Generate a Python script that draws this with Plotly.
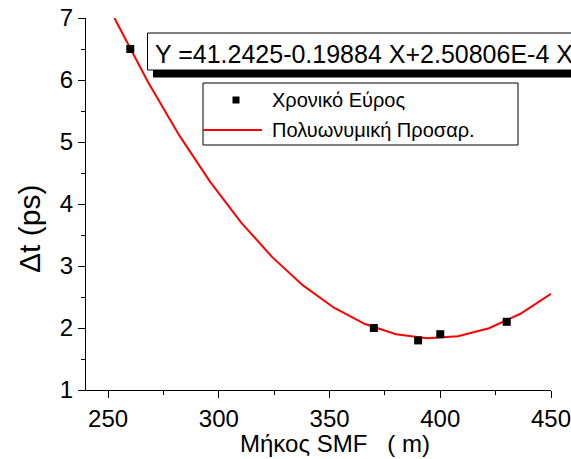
import numpy as np
import plotly.graph_objects as go

# Measured pulse broadening vs. SMF length
length_m = [260, 370, 390, 400, 430]
delta_t_ps = [6.5, 2.0, 1.8, 1.9, 2.1]

# Quadratic fit coefficients: Y = A + B*X + C*X^2
fit_A = 41.2425
fit_B = -0.19884
fit_C = 2.50806e-4
fit_x = np.linspace(240, 450, 16)
fit_y = fit_A + fit_B * fit_x + fit_C * fit_x ** 2

FONT = "Arial, Liberation Sans, sans-serif"

# plot-area geometry in pixels (used for the overlay boxes and titles)
L, R, T, B = 86, 551, 18, 390


def px(x):
    return (x - L) / (R - L)


def py(y):
    return (B - y) / (B - T)


fig = go.Figure()
fig.add_trace(go.Scatter(
    x=fit_x, y=fit_y, mode="lines",
    line=dict(color="#ff0000", width=2),
    name="Πολυωνυμική Προσαρ.", showlegend=False,
))
fig.add_trace(go.Scatter(
    x=length_m, y=delta_t_ps, mode="markers",
    marker=dict(symbol="square", size=8, color="black"),
    name="Χρονικό Εύρος", showlegend=False,
))

axis_common = dict(
    showline=True, linecolor="black", linewidth=1.3,
    ticks="outside", ticklen=7, tickwidth=1.3, tickcolor="black",
    showgrid=False, zeroline=False, mirror=False, automargin=False,
    ticklabeloverflow="allow",
    tickfont=dict(family=FONT, size=24, color="black"),
)

fig.update_xaxes(
    range=[240, 450], tickvals=[250, 300, 350, 400, 450],
    minor=dict(ticks="outside", ticklen=4, tickwidth=1.3, tickcolor="black",
               tickvals=[275, 325, 375, 425]),
    **axis_common,
)
fig.update_yaxes(
    range=[1, 7], dtick=1,
    minor=dict(ticks="outside", ticklen=4, tickwidth=1.3, tickcolor="black", dtick=0.5),
    **axis_common,
)

# Axis titles
fig.add_annotation(xref="paper", yref="paper", x=px(335), y=py(443),
                   xanchor="center", yanchor="middle", showarrow=False,
                   text="Μήκος SMF   ( m)",
                   font=dict(family=FONT, size=24, color="black"))
fig.add_annotation(xref="paper", yref="paper", x=px(30), y=py(229),
                   xanchor="center", yanchor="middle", showarrow=False,
                   textangle=-90, text="Δt (ps)",
                   font=dict(family=FONT, size=30, color="black"))

# Equation box with drop shadow
fig.add_shape(type="rect", xref="paper", yref="paper",
              x0=px(153), x1=px(700), y0=py(77.5), y1=py(40),
              fillcolor="black", line=dict(width=0), layer="above")
fig.add_shape(type="rect", xref="paper", yref="paper",
              x0=px(147.5), x1=px(690), y0=py(70), y1=py(33),
              fillcolor="white", line=dict(color="black", width=1), layer="above")
fig.add_annotation(xref="paper", yref="paper", x=px(153), y=py(52),
                   xanchor="left", yanchor="middle", showarrow=False,
                   text="Y =41.2425-0.19884 X+2.50806E-4 X<sup>2</sup>",
                   font=dict(family=FONT, size=25, color="black"))

# Legend box
fig.add_shape(type="rect", xref="paper", yref="paper",
              x0=px(203), x1=px(518), y0=py(145), y1=py(83),
              fillcolor="white", line=dict(color="black", width=1), layer="above")
# marker sample
fig.add_shape(type="rect", xref="paper", yref="paper",
              x0=px(232.5), x1=px(239.5), y0=py(103.5), y1=py(96.5),
              fillcolor="black", line=dict(width=0), layer="above")
# line sample
fig.add_shape(type="line", xref="paper", yref="paper",
              x0=px(203), x1=px(262), y0=py(130), y1=py(130),
              line=dict(color="#ff0000", width=2), layer="above")
fig.add_annotation(xref="paper", yref="paper", x=px(270), y=py(100),
                   xanchor="left", yanchor="middle", showarrow=False,
                   text="Χρονικό Εύρος", font=dict(family=FONT, size=20, color="black"))
fig.add_annotation(xref="paper", yref="paper", x=px(270), y=py(130),
                   xanchor="left", yanchor="middle", showarrow=False,
                   text="Πολυωνυμική Προσαρ.", font=dict(family=FONT, size=20, color="black"))

fig.update_layout(
    width=571, height=459,
    margin=dict(l=L, r=571 - R, t=T, b=459 - B),
    paper_bgcolor="white", plot_bgcolor="white",
    showlegend=False,
)

fig.write_html("out.html", config={"displayModeBar": False})
